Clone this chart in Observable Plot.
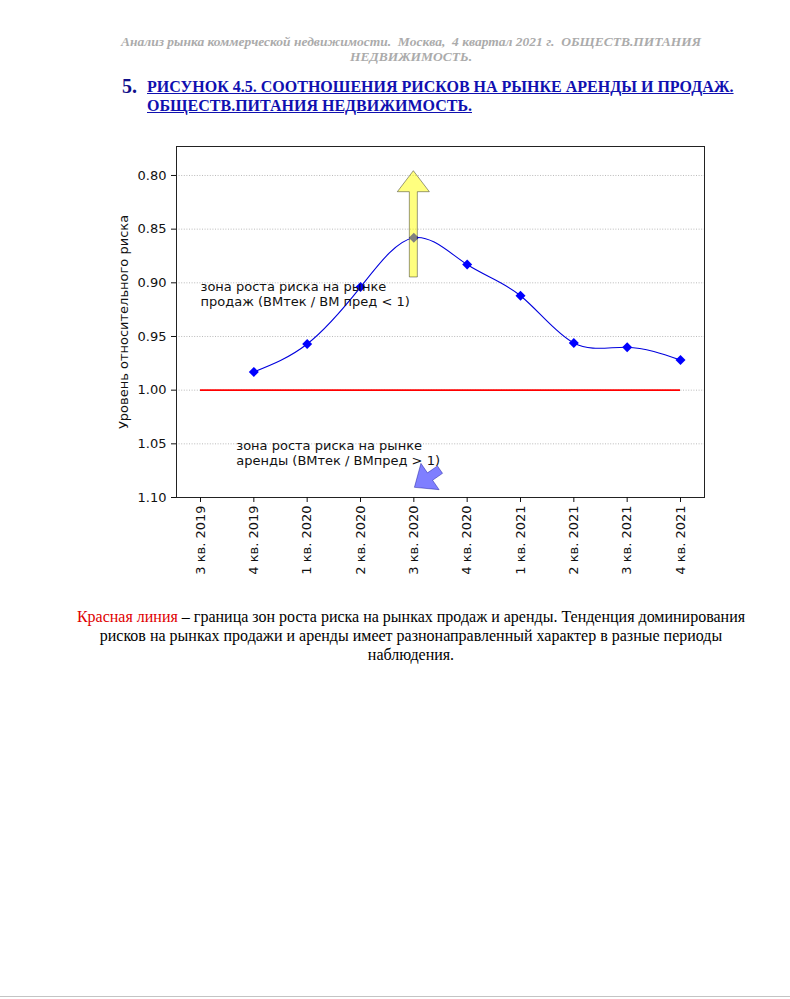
<!DOCTYPE html>
<html><head><meta charset="utf-8">
<script src="https://cdn.jsdelivr.net/npm/d3@7"></script>
<script src="https://cdn.jsdelivr.net/npm/@observablehq/plot@0.6"></script>
<style>
html,body{margin:0;padding:0;background:#fff;}
body{width:790px;height:999px;position:relative;overflow:hidden;font-family:"Liberation Serif","Times New Roman",serif;}
.hdr{position:absolute;left:100px;width:622px;top:34px;text-align:center;font-size:13.5px;line-height:15px;font-style:italic;font-weight:bold;color:#ababab;white-space:pre;}
.num{position:absolute;left:122px;top:75px;font-size:20px;font-weight:bold;color:#10108a;}
.ttl{position:absolute;left:147px;top:77px;font-size:16px;line-height:19px;font-weight:bold;color:#1010b0;text-decoration:underline;white-space:nowrap;}
.cap{position:absolute;left:40px;width:742px;top:607px;text-align:center;font-size:16px;line-height:19px;color:#000;white-space:nowrap;}
.cap .red{color:#e00000;}
#chart{position:absolute;left:0;top:130px;}
.bl{position:absolute;left:0;width:790px;top:996px;height:1px;background:#c4c4c4;}
</style></head>
<body>
<div class="hdr">Анализ рынка коммерческой недвижимости.  Москва,  4 квартал 2021 г.  ОБЩЕСТВ.ПИТАНИЯ
НЕДВИЖИМОСТЬ.</div>
<div class="num">5.</div>
<div class="ttl">РИСУНОК 4.5. СООТНОШЕНИЯ РИСКОВ НА РЫНКЕ АРЕНДЫ И ПРОДАЖ.<br>ОБЩЕСТВ.ПИТАНИЯ НЕДВИЖИМОСТЬ.</div>
<div id="chart"></div>
<div class="cap"><span class="red">Красная линия</span> – граница зон роста риска на рынках продаж и аренды. Тенденция доминирования<br>рисков на рынках продажи и аренды имеет разнонаправленный характер в разные периоды<br>наблюдения.</div>
<div class="bl"></div>
<script>
// ---- data ----
const quarters = ["3 кв. 2019","4 кв. 2019","1 кв. 2020","2 кв. 2020","3 кв. 2020","4 кв. 2020","1 кв. 2021","2 кв. 2021","3 кв. 2021","4 кв. 2021"];
const riskValues = [null, 0.983, 0.957, 0.904, 0.858, 0.883, 0.912, 0.956, 0.960, 0.972];
const boundaryValue = 1.0;
const boundaryStart = 0, boundaryEnd = 9;
const yTicks = [0.80, 0.85, 0.90, 0.95, 1.00, 1.05, 1.10];
const yLabel = "Уровень относительного риска";
const noteTexts = ["зона роста риска на рынке\nпродаж (ВМтек / ВМ пред < 1)", "зона роста риска на рынке\nаренды (ВМтек / ВМпред > 1)"];
const noteX = [0.0, 0.67];
const noteY = [0.898, 1.0463];
const arrowFromX = [4.0, 4.5];
const arrowFromY = [0.895, 1.0745];
const arrowToX = [4.0, 4.02];
const arrowToY = [0.796, 1.091];

// ---- build ----
const riskData = quarters.map((q, i) => ({i, q, v: riskValues[i]})).filter(d => d.v != null);
const notes = noteTexts.map((t, k) => ({t, x: noteX[k], y: noteY[k]}));

const chart = Plot.plot({
  width: 790, height: 460,
  marginLeft: 176, marginRight: 86, marginTop: 16, marginBottom: 93,
  style: {fontFamily: "DejaVu Sans", fontSize: "13px", color: "#111", background: "transparent"},
  x: {domain: [-0.45, 9.45]},
  y: {domain: [0.773, 1.10], reverse: true},
  marks: [
    Plot.gridY(yTicks, {stroke: "#a8a8a8", strokeOpacity: 1, strokeWidth: 0.8, strokeDasharray: "1,1.6"}),
    Plot.ruleY([boundaryValue], {x1: boundaryStart, x2: boundaryEnd, stroke: "red", strokeWidth: 1.6}),
    Plot.line(riskData, {x: "i", y: "v", curve: "natural", stroke: "#0000dd", strokeWidth: 1.1}),
    Plot.dot(riskData, {x: "i", y: "v", symbol: "diamond2", r: 4.5, fill: "blue", stroke: "none"}),
    Plot.text(notes, {x: "x", y: "y", text: "t", textAnchor: "start", lineAnchor: "top", lineHeight: 1.15, fontSize: 13, fill: "#111"}),
    Plot.frame({stroke: "#222", strokeWidth: 1}),
    Plot.axisY(yTicks, {tickFormat: d => d.toFixed(2), tickSize: 5, tickPadding: 5, label: yLabel, labelArrow: "none", labelAnchor: "center", labelOffset: 58, fontSize: 13}),
    Plot.axisX(d3.range(quarters.length), {tickFormat: i => quarters[i], tickRotate: -90, tickSize: 5, tickPadding: 3, label: null, fontSize: 13})
  ]
});
document.getElementById("chart").appendChild(chart);

// filled arrows drawn through the plot's own scales
const sx = chart.scale("x"), sy = chart.scale("y");
function arrowPoints(x0, y0, x1, y1, w, hw, hl) {
  const tx = sx.apply(x0), ty = sy.apply(y0), px = sx.apply(x1), py = sy.apply(y1);
  const L = Math.hypot(px - tx, py - ty), ux = (px - tx) / L, uy = (py - ty) / L;
  const nx = -uy, ny = ux, bx = px - ux * hl, by = py - uy * hl;
  return [[tx + nx*w/2, ty + ny*w/2], [bx + nx*w/2, by + ny*w/2], [bx + nx*hw/2, by + ny*hw/2], [px, py],
          [bx - nx*hw/2, by - ny*hw/2], [bx - nx*w/2, by - ny*w/2], [tx - nx*w/2, ty - ny*w/2]]
    .map(p => p.join(",")).join(" ");
}
const arrowStyles = [
  {fill: "yellow", stroke: "#000", w: 8, hw: 32, hl: 21},
  {fill: "blue", stroke: "#00008b", w: 9, hw: 32, hl: 19}
];
const svg = d3.select(chart.tagName.toLowerCase() === "svg" ? chart : chart.querySelector("svg"));
arrowStyles.forEach((s, k) => {
  svg.append("polygon")
    .attr("points", arrowPoints(arrowFromX[k], arrowFromY[k], arrowToX[k], arrowToY[k], s.w, s.hw, s.hl))
    .attr("fill", s.fill).attr("fill-opacity", 0.5)
    .attr("stroke", s.stroke).attr("stroke-opacity", 0.4).attr("stroke-width", 1);
});
</script>
</body></html>
